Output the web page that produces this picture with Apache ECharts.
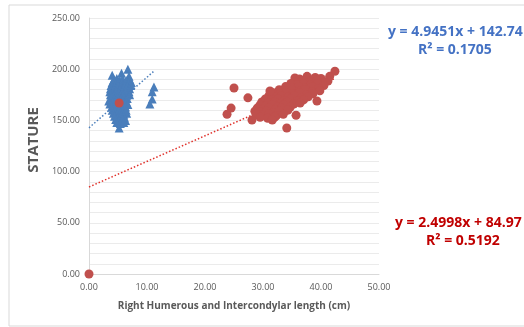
<!DOCTYPE html>
<html>
<head>
<meta charset="UTF-8">
<title>Stature scatter</title>
<script src="https://cdn.jsdelivr.net/npm/echarts@6/dist/echarts.min.js"></script>
<style>
  * {margin: 0; padding: 0;}
  body {background: #fff;}
  #chart {width: 524px; height: 327px;}
</style>
</head>
<body>
<div id="chart"></div>
<script type="text/javascript">
// blue series (triangles)
var bluePoints = [
  [4.0,194],[6.7,200],[5.6,196],[6.9,193],
  [4.3,190],[4.8,191],[5.3,189],[5.8,190.5],[6.4,189],[7.0,190],
  [4.0,187],[4.6,186],[5.1,187.5],[5.6,186],[6.2,187],[6.8,186.5],[7.3,187],
  [3.8,184],[4.4,183],[5.0,184.5],[5.5,183],[6.1,184],[6.6,183.5],[7.2,184],
  [3.7,181],[4.2,180],[4.8,181.5],[5.3,180],[5.9,181],[6.5,180.5],[7.0,181],
  [3.6,178],[4.1,177],[4.7,178.5],[5.2,177],[5.8,178],[6.3,177.5],[6.9,178],
  [3.7,175],[4.2,174],[4.8,175.5],[5.4,174],[5.9,175],[6.5,174.5],[7.0,175],
  [3.8,172],[4.3,171],[4.9,172.5],[5.5,171],[6.0,172],[6.6,171.5],
  [3.4,169],[4.1,168],[4.7,169.5],[5.3,168],[5.8,169],[6.4,168.5],
  [3.6,166],[4.4,165],[5.0,166.5],[5.6,165],[6.2,166],[6.7,165.5],
  [3.9,163],[4.5,162],[5.1,163.5],[5.7,162],[6.3,163],
  [4.0,160],[4.6,159],[5.2,160.5],[5.8,159],[6.4,160],
  [4.2,157],[4.8,156],[5.4,157.5],[6.0,156],[6.5,157],
  [4.4,154],[5.0,153],[5.5,154.5],[6.1,153],
  [4.6,151],[5.2,150],[5.8,151.5],[6.3,150],
  [4.8,148],[5.4,147],[6.0,148],
  [5.2,142.6],
  [10.5,166],[10.9,171],[10.9,178],[11.2,182.6]
];

// red series (circles)
var redPoints = [
  [0,0],[5.2,167],
  [42.4,198],[41.5,193],[41.2,188.5],[39.0,192],[35.5,191.4],
  [36.3,190.5],[37.6,193],[38.7,190],[40.0,191],
  [35.5,188],[36.8,189],[38.0,187.5],[39.3,189],[40.6,187],
  [34.8,186],[35.9,185],[37.0,186],[38.2,184.5],[39.4,186],[40.5,184],
  [33.9,183],[35.0,182],[36.1,183],[37.2,181.5],[38.4,183],[39.6,181],
  [32.8,180],[33.9,179],[35.0,180],[36.2,178.5],[37.3,180],[38.5,178],[39.8,179],
  [31.8,177],[32.9,176],[34.0,177],[35.1,175.5],[36.3,177],[37.5,175],[38.6,176],
  [31.0,174],[32.1,173],[33.2,174],[34.3,172.5],[35.4,174],[36.6,172],[37.8,173],
  [30.4,171],[31.5,170],[32.6,171],[33.7,169.5],[34.8,171],[35.9,169],[37.0,170],
  [29.8,168],[30.9,167],[32.0,168],[33.1,166.5],[34.2,168],[35.3,166],[36.4,167],
  [29.5,165],[30.5,164],[31.5,165],[32.6,163.5],[33.6,165],[34.7,163],
  [29.0,162],[30.0,161],[31.0,162],[32.1,160.5],[33.2,162],[34.3,160],
  [28.6,159],[29.6,158],[30.6,159],[31.7,157.5],[32.8,159],
  [28.8,156],[29.9,155],[31.0,156],[32.3,154.5],[33.5,156],
  [29.5,153],[30.8,152],[32.0,153],
  [28.1,150.4],[31.6,150.4],[35.7,155],[39.3,169],[31.2,178.7],
  [25.0,181.6],[27.4,172],[24.5,162],[23.8,156],[34.1,142.6]
];

// trend lines: [slope, intercept], x range
var blueTrend = [4.9451, 142.74];
var blueTrendX = [0, 11.1];
var redTrend = [2.4998, 84.97];
var redTrendX = [0, 42.5];

var xTicks = [0, 10, 20, 30, 40, 50];
var yTicks = [0, 50, 100, 150, 200, 250];

function trendData(coef, xs) {
  return xs.map(function (x) { return [x, coef[0] * x + coef[1]]; });
}

var chart = echarts.init(document.getElementById('chart'));
var option = {
  animation: false,
  grid: {left: 89, right: 145, top: 18, bottom: 53},
  graphic: [
    {
      type: 'rect',
      shape: {x: 9, y: 5, width: 530, height: 321},
      style: {fill: 'none', stroke: '#d9d9d9', lineWidth: 1},
      silent: true
    },
    {
      type: 'text', left: 388, top: 25,
      style: {text: 'y = 4.9451x + 142.74', fill: '#4472c4', font: 'bold 14px "Open Sans"'}
    },
    {
      type: 'text', left: 418, top: 43,
      style: {text: 'R\u00b2 = 0.1705', fill: '#4472c4', font: 'bold 14px "Open Sans"'}
    },
    {
      type: 'text', left: 395, top: 216,
      style: {text: 'y = 2.4998x + 84.97', fill: '#c00000', font: 'bold 14px "Open Sans"'}
    },
    {
      type: 'text', left: 426, top: 234,
      style: {text: 'R\u00b2 = 0.5192', fill: '#c00000', font: 'bold 14px "Open Sans"'}
    }
  ],
  xAxis: {
    type: 'value',
    min: xTicks[0], max: xTicks[xTicks.length - 1], interval: 10,
    name: 'Right Humerous and Intercondylar length (cm)',
    nameLocation: 'middle', nameGap: 27,
    nameTextStyle: {color: '#595959', fontWeight: 'bold', fontSize: 10, fontFamily: 'Open Sans'},
    axisLine: {show: true, onZero: false, lineStyle: {color: '#d9d9d9'}},
    axisTick: {show: false},
    splitLine: {show: false},
    axisLabel: {
      color: '#595959', fontSize: 9, fontFamily: 'Open Sans', margin: 9,
      formatter: function (v) { return v.toFixed(2); }
    }
  },
  yAxis: {
    type: 'value',
    min: yTicks[0], max: yTicks[yTicks.length - 1], interval: 50,
    name: 'STATURE',
    nameLocation: 'middle', nameGap: 43,
    nameTextStyle: {color: '#595959', fontWeight: 'bold', fontSize: 15, fontFamily: 'Open Sans', padding: [0, 0, 0, 12]},
    axisLine: {show: true, lineStyle: {color: '#d9d9d9'}},
    axisTick: {show: false},
    splitLine: {lineStyle: {color: '#ebebeb'}},
    minorTick: {show: false, splitNumber: 5},
    minorSplitLine: {show: true, lineStyle: {color: '#ebebeb'}},
    axisLabel: {
      color: '#595959', fontSize: 9, fontFamily: 'Open Sans', margin: 9,
      formatter: function (v) { return v.toFixed(2); }
    }
  },
  series: [
    {
      name: 'blueTrend', type: 'line', data: trendData(blueTrend, blueTrendX),
      symbol: 'none', z: 3,
      lineStyle: {color: '#4a7ebb', width: 1.5, type: [1.5, 2]}
    },
    {
      name: 'redTrend', type: 'line', data: trendData(redTrend, redTrendX),
      symbol: 'none', z: 3,
      lineStyle: {color: '#e0302a', width: 1.5, type: [1.5, 2]}
    },
    {
      name: 'blue', type: 'scatter', data: bluePoints,
      symbol: 'triangle', symbolSize: 9, z: 2,
      itemStyle: {color: '#4a7ebb', opacity: 1}
    },
    {
      name: 'red', type: 'scatter', data: redPoints,
      symbol: 'circle', symbolSize: 9, z: 4,
      itemStyle: {color: '#c0504d', opacity: 1}
    }
  ]
};
chart.setOption(option);
</script>
</body>
</html>
